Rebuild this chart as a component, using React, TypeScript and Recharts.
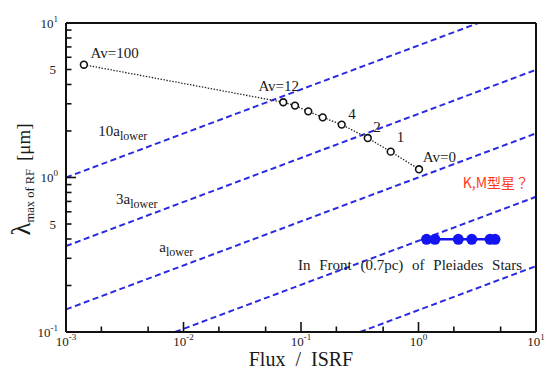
import React from 'react';
import { ComposedChart, Line, Scatter, XAxis, YAxis } from 'recharts';

// ---- data ----
const avTrack = [
  { x: 0.00142, y: 5.37 },
  { x: 0.0706, y: 3.07 },
  { x: 0.0889, y: 2.92 },
  { x: 0.1153, y: 2.68 },
  { x: 0.153, y: 2.45 },
  { x: 0.222, y: 2.2 },
  { x: 0.37, y: 1.8 },
  { x: 0.58, y: 1.47 },
  { x: 1.01, y: 1.13 },
];
const pleiadesStars = [
  { x: 1.17, y: 0.398 },
  { x: 1.38, y: 0.398 },
  { x: 2.18, y: 0.398 },
  { x: 2.84, y: 0.398 },
  { x: 4.06, y: 0.398 },
  { x: 4.48, y: 0.398 },
];
const grainLine1 = [{ x: 0.001, y: 1.0 }, { x: 3.23, y: 10 }];
const grainLine2 = [{ x: 0.001, y: 0.36 }, { x: 10, y: 4.98 }];
const grainLine3 = [{ x: 0.001, y: 0.14 }, { x: 10, y: 1.93 }];
const grainLine4 = [{ x: 0.00847, y: 0.1 }, { x: 10, y: 0.75 }];
const grainLine5 = [{ x: 0.318, y: 0.1 }, { x: 10, y: 0.267 }];
const grainLines = [grainLine1, grainLine2, grainLine3, grainLine4, grainLine5];

const xTicks = [0.001, 0.002, 0.005, 0.01, 0.02, 0.05, 0.1, 0.2, 0.5, 1, 2, 5, 10];
const yTicks = [
  0.1, 0.2, 0.3, 0.4, 0.5, 0.6, 0.7, 0.8, 0.9,
  1, 2, 3, 4, 5, 6, 7, 8, 9, 10,
];
const yLabelledFives = [0.5, 5];

const avNotes = [
  { x: 0.00162, y: 5.95, text: 'Av=100' },
  { x: 0.0434, y: 3.61, text: 'Av=12' },
  { x: 0.253, y: 2.39, text: '4' },
  { x: 0.412, y: 1.96, text: '2' },
  { x: 0.652, y: 1.69, text: '1' },
  { x: 1.087, y: 1.26, text: 'Av=0' },
];
const grainNotes = [
  { x: 0.00188, y: 1.87, main: '10a', sub: 'lower' },
  { x: 0.00267, y: 0.678, main: '3a', sub: 'lower' },
  { x: 0.00622, y: 0.329, main: 'a', sub: 'lower' },
];
const starNotes = [{ x: 0.0942, y: 0.252, text: 'In Front (0.7pc) of Pleiades Stars' }];
const kmNotes = [{ x: 2.38, y: 0.861, text: 'K,M型星？' }];

const SERIF = 'Times New Roman';
const SANS = 'Noto Sans CJK JP';
const INK = '#111111';
const BLUE_DASH = '#2a2ae2';
const BLUE_DOT = '#1414f0';

const AXIS_LINE = { stroke: INK, strokeWidth: 2 };
const AV_DOT = { r: 3.4, stroke: INK, strokeWidth: 1.6, fill: '#fff', strokeDasharray: '' };
const STAR_DOT = { r: 5.5, stroke: BLUE_DOT, strokeWidth: 0, fill: BLUE_DOT };

function isDecade(v: number) {
  const l = Math.log10(v);
  return Math.abs(l - Math.round(l)) < 1e-6;
}
function expText(v: number) {
  return String(Math.round(Math.log10(v)));
}

function powLabel(x: number, y: number, v: number, anchor: string) {
  return (
    <text x={x} y={y} textAnchor={anchor} fontFamily={SERIF} fontSize={13} fill="#222">
      <tspan>10</tspan>
      <tspan dy={-6} fontSize={9}>{expText(v)}</tspan>
    </text>
  );
}

function tickMark(x: number, y: number, x2: number, y2: number) {
  return <line x1={x} y1={y} x2={x2} y2={y2} stroke={INK} strokeWidth={1.6} />;
}

function BottomTick(props: any) {
  const { x, y, payload } = props;
  const v = payload.value as number;
  const major = isDecade(v);
  return (
    <g>
      {tickMark(x, y, x, y - (major ? 10 : 5.5))}
      {major ? powLabel(x, y + 14, v, 'middle') : null}
    </g>
  );
}
function TopTick(props: any) {
  const { x, y, payload } = props;
  const major = isDecade(payload.value);
  return <g>{tickMark(x, y, x, y + (major ? 10 : 5.5))}</g>;
}
function LeftTick(props: any) {
  const { x, y, payload } = props;
  const v = payload.value as number;
  const major = isDecade(v);
  let label: any = null;
  if (major) label = powLabel(x - 8, y + 4.5, v, 'end');
  else if (yLabelledFives.some((f) => Math.abs(f - v) < 1e-9))
    label = (
      <text x={x - 10} y={y + 4.5} textAnchor="end" fontFamily={SERIF} fontSize={13} fill="#222">
        5
      </text>
    );
  return (
    <g>
      {tickMark(x, y, x + (major ? 10 : 5.5), y)}
      {label}
    </g>
  );
}
function RightTick(props: any) {
  const { x, y, payload } = props;
  const major = isDecade(payload.value);
  return <g>{tickMark(x, y, x - (major ? 10 : 5.5), y)}</g>;
}

function avNoteShape(p: any) {
  return (
    <text x={p.cx} y={p.cy} fontFamily={SERIF} fontSize={15} fill="#1a1a1a">
      {p.payload.text}
    </text>
  );
}
function grainNoteShape(p: any) {
  return (
    <text x={p.cx} y={p.cy} fontFamily={SERIF} fontSize={15} fill="#1a1a1a">
      <tspan>{p.payload.main}</tspan>
      <tspan dy={4} fontSize={12}>{p.payload.sub}</tspan>
    </text>
  );
}
function starNoteShape(p: any) {
  return (
    <text x={p.cx} y={p.cy} fontFamily={SERIF} fontSize={15} wordSpacing={5} fill="#1a1a1a">
      {p.payload.text}
    </text>
  );
}
function kmNoteShape(p: any) {
  return (
    <text x={p.cx} y={p.cy} fontFamily={SANS} fontSize={14} fill="#ff3a1a">
      {p.payload.text}
    </text>
  );
}

function xTitle(p: any) {
  const vb = p.viewBox || { x: 66, y: 331, width: 470, height: 38 };
  return (
    <text x={vb.x + vb.width / 2} y={vb.y + 34} textAnchor="middle" fontFamily={SERIF} fontSize={20} fill="#1a1a1a">
      {'Flux\u00a0\u00a0/\u00a0\u00a0ISRF'}
    </text>
  );
}
function yTitle(p: any) {
  const vb = p.viewBox || { x: 0, y: 22, width: 66, height: 309 };
  const cy = vb.y + vb.height / 2 + 2;
  return (
    <text transform={`translate(30,${cy}) rotate(-90)`} textAnchor="middle" fontFamily={SERIF} fill="#1a1a1a">
      <tspan fontSize={27}>λ</tspan>
      <tspan fontSize={12.5} dy={4}>{'max of RF\u00a0'}</tspan>
      <tspan fontSize={19} dy={-4}>{'\u00a0[μm]'}</tspan>
    </text>
  );
}

const BOTTOM_TICK = (p: any) => <BottomTick {...p} />;
const TOP_TICK = (p: any) => <TopTick {...p} />;
const LEFT_TICK = (p: any) => <LeftTick {...p} />;
const RIGHT_TICK = (p: any) => <RightTick {...p} />;
const MARGIN = { top: 22, right: 9, bottom: 0, left: 0 };
const X_DOMAIN: [number, number] = [0.001, 10];
const Y_DOMAIN: [number, number] = [0.1, 10];

export default function App() {
  return (
    <div style={{ position: 'absolute', left: 0, top: 0, width: 546, height: 370 }}>
      <ComposedChart width={546} height={370} margin={MARGIN}>
        <XAxis
          xAxisId="b"
          dataKey="x"
          type="number"
          scale="log"
          domain={X_DOMAIN}
          ticks={xTicks}
          interval={0}
          height={38}
          tickSize={0}
          tickMargin={0}
          tickLine={false}
          axisLine={AXIS_LINE}
          tick={BOTTOM_TICK}
          label={xTitle}
        />
        <XAxis
          xAxisId="t"
          orientation="top"
          dataKey="x"
          type="number"
          scale="log"
          domain={X_DOMAIN}
          ticks={xTicks}
          interval={0}
          height={1}
          tickSize={0}
          tickMargin={0}
          tickLine={false}
          axisLine={AXIS_LINE}
          tick={TOP_TICK}
        />
        <YAxis
          yAxisId="l"
          type="number"
          scale="log"
          domain={Y_DOMAIN}
          ticks={yTicks}
          interval={0}
          width={66}
          tickSize={0}
          tickMargin={0}
          tickLine={false}
          axisLine={AXIS_LINE}
          tick={LEFT_TICK}
          label={yTitle}
        />
        <YAxis
          yAxisId="r"
          orientation="right"
          type="number"
          scale="log"
          domain={Y_DOMAIN}
          ticks={yTicks}
          interval={0}
          width={1}
          tickSize={0}
          tickMargin={0}
          tickLine={false}
          axisLine={AXIS_LINE}
          tick={RIGHT_TICK}
        />

        {grainLines.map((d, i) => (
          <Line
            key={'g' + i}
            xAxisId="b"
            yAxisId="l"
            data={d}
            dataKey="y"
            stroke={BLUE_DASH}
            strokeWidth={2}
            strokeDasharray="6 3.5"
            dot={false}
            activeDot={false}
            isAnimationActive={false}
          />
        ))}

        <Line
          xAxisId="b"
          yAxisId="l"
          data={avTrack}
          dataKey="y"
          stroke="#222"
          strokeWidth={1.3}
          strokeDasharray="1.4 1.6"
          dot={AV_DOT}
          activeDot={false}
          isAnimationActive={false}
        />

        <Line
          xAxisId="b"
          yAxisId="l"
          data={pleiadesStars}
          dataKey="y"
          stroke={BLUE_DOT}
          strokeWidth={2.5}
          dot={STAR_DOT}
          activeDot={false}
          isAnimationActive={false}
        />

        <Scatter xAxisId="b" yAxisId="l" data={avNotes} dataKey="y" shape={avNoteShape} isAnimationActive={false} />
        <Scatter xAxisId="b" yAxisId="l" data={grainNotes} dataKey="y" shape={grainNoteShape} isAnimationActive={false} />
        <Scatter xAxisId="b" yAxisId="l" data={starNotes} dataKey="y" shape={starNoteShape} isAnimationActive={false} />
        <Scatter xAxisId="b" yAxisId="l" data={kmNotes} dataKey="y" shape={kmNoteShape} isAnimationActive={false} />
      </ComposedChart>
    </div>
  );
}
